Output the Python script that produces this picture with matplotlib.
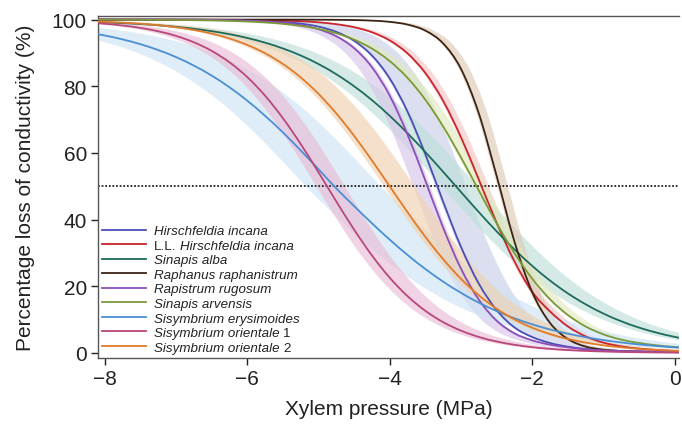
import matplotlib
matplotlib.use("Agg")
import matplotlib.pyplot as plt
from matplotlib.path import Path
from matplotlib.patches import PathPatch
from matplotlib.lines import Line2D
import numpy as np

plt.rcParams['font.family'] = ['Liberation Sans', 'DejaVu Sans']

# ---- data ----
pressure = [-9, -8.75, -8.5, -8.25, -8, -7.75, -7.5, -7.25, -7, -6.75, -6.5, -6.25,
            -6, -5.75, -5.5, -5.25, -5, -4.75, -4.5, -4.25, -4, -3.75, -3.5, -3.25,
            -3, -2.75, -2.5, -2.25, -2, -1.75, -1.5, -1.25, -1, -0.75, -0.5, -0.25,
            0, 0.25, 0.5, 0.75, 1]

hirschfeldia = [100, 100, 100, 100, 100, 100, 99.99, 99.99, 99.98, 99.96, 99.93, 99.88,
                99.78, 99.62, 99.32, 98.81, 97.90, 96.33, 93.64, 89.25, 82.36, 72.43, 59.65, 45.41,
                31.89, 20.85, 12.91, 7.70, 4.8, 3.0, 1.9, 1.2, 0.8, 0.6, 0.45, 0.35,
                0.3, 0.25, 0.2, 0.15, 0.12]
ll_hirschfeldia = [100, 100, 100, 100, 100, 100, 100, 99.99, 99.99, 99.98, 99.97, 99.94,
                   99.90, 99.83, 99.72, 99.52, 99.19, 98.63, 97.72, 96.21, 93.76, 89.88, 84.01, 75.66,
                   64.77, 52.10, 39.15, 27.57, 18.38, 12.5, 8.0, 5.0, 3.1, 2.0, 1.3, 0.9,
                   0.6, 0.45, 0.35, 0.25, 0.2]
sinapis_alba = [99.68, 99.60, 99.49, 99.35, 99.17, 98.94, 98.66, 98.30, 97.84, 97.26, 96.53, 95.63,
                94.49, 93.09, 91.35, 89.24, 86.67, 83.61, 80.01, 75.86, 71.14, 65.92, 60.28, 54.36,
                48.31, 42.30, 36.52, 31.10, 26.15, 21.75, 17.90, 14.62, 11.84, 9.53, 7.63, 6.09,
                4.84, 3.84, 3.04, 2.40, 1.89]
raphanus = [100, 100, 100, 100, 100, 100, 100, 100, 100, 100, 100, 100,
            100, 100, 100, 99.99, 99.97, 99.94, 99.87, 99.70, 99.33, 98.51, 96.71, 92.88,
            85.26, 71.96, 53.25, 33.57, 18.32, 9.05, 4.23, 1.92, 1.0, 0.6, 0.4, 0.3,
            0.25, 0.2, 0.15, 0.1, 0.1]
rapistrum = [100, 100, 100, 100, 100, 99.99, 99.99, 99.98, 99.97, 99.95, 99.91, 99.83,
             99.70, 99.47, 99.07, 98.36, 97.12, 95.00, 91.44, 85.74, 77.19, 65.56, 51.72, 37.61,
             25.33, 16.03, 9.70, 5.9, 3.8, 2.5, 1.7, 1.1, 0.8, 0.6, 0.5, 0.4,
             0.35, 0.3, 0.25, 0.2, 0.15]
sinapis_arvensis = [100, 99.99, 99.99, 99.98, 99.98, 99.96, 99.95, 99.92, 99.88, 99.83, 99.74, 99.61,
                    99.42, 99.14, 98.73, 98.11, 97.21, 95.90, 94.00, 91.31, 87.57, 82.52, 75.99, 67.96,
                    58.71, 48.80, 38.98, 29.99, 22.31, 16.14, 11.43, 7.96, 5.6, 4.0, 3.0, 2.3,
                    1.8, 1.4, 1.1, 0.85, 0.65]
erysimoides = [98.06, 97.57, 96.95, 96.18, 95.23, 94.06, 92.62, 90.86, 88.75, 86.20, 83.20, 79.69,
               75.67, 71.14, 66.15, 60.75, 55.11, 49.36, 44.07, 38.92, 34.00, 29.41, 25.20, 21.41,
               18.05, 15.11, 12.59, 10.43, 8.60, 7.07, 5.80, 4.74, 3.87, 3.15, 2.56, 2.08,
               1.69, 1.37, 1.12, 0.91, 0.74]
orientale1 = [99.69, 99.56, 99.37, 99.11, 98.75, 98.23, 97.51, 96.50, 95.11, 93.20, 90.62, 87.19,
              82.75, 77.17, 70.43, 62.67, 54.19, 45.46, 37.01, 29.27, 22.58, 17.05, 12.65, 9.26,
              6.71, 4.82, 3.45, 2.46, 1.74, 1.23, 0.87, 0.62, 0.44, 0.31, 0.22, 0.15,
              0.11, 0.08, 0.06, 0.04, 0.03]
orientale2 = [99.81, 99.74, 99.64, 99.51, 99.33, 99.09, 98.76, 98.31, 97.70, 96.89, 95.79, 94.33,
              92.41, 89.91, 86.70, 82.67, 77.73, 71.86, 65.14, 57.75, 50.00, 42.25, 34.86, 28.14,
              22.27, 17.33, 13.30, 10.09, 7.59, 5.67, 4.21, 3.11, 2.30, 1.69, 1.24, 0.91,
              0.67, 0.49, 0.36, 0.26, 0.19]

# legend labels: (upright prefix, italic species name, upright suffix)
label_prefix = ['', 'L.L.', '', '', '', '', '', '', '']
label_species = ['Hirschfeldia incana', 'Hirschfeldia incana', 'Sinapis alba',
                 'Raphanus raphanistrum', 'Rapistrum rugosum', 'Sinapis arvensis',
                 'Sisymbrium erysimoides', 'Sisymbrium orientale', 'Sisymbrium orientale']
label_suffix = ['', '', '', '', '', '', '', '1', '2']

series = [hirschfeldia, ll_hirschfeldia, sinapis_alba, raphanus, rapistrum,
          sinapis_arvensis, erysimoides, orientale1, orientale2]
# confidence band as pressure offsets (MPa) below / above the fitted curve
band_low = [-0.03, -0.03, -0.20, -0.03, -0.20, -0.03, -0.40, -0.15, -0.08]
band_high = [0.40, 0.10, 0.30, 0.12, 0.04, 0.14, 0.65, 0.25, 0.35]
threshold = 50

line_colors = ['#4a4db3', '#c9252c', '#1e6b5c', '#3b2316', '#8b4fba',
               '#7a9a3a', '#4a8fd6', '#b8477a', '#e07b2c']
band_colors = ['#c9cfe9', '#f4c6c6', '#bfe0da', '#dccbb6', '#d8c6ea',
               '#e2eac0', '#cfe4f5', '#e8bcd6', '#f0d2b0']


def smooth_segments(xs, ys):
    """Bezier (Catmull-Rom) rendering of a polyline: control points and codes."""
    pts = np.column_stack([xs, ys])
    n = len(pts)
    verts, codes = [], []
    for i in range(n - 1):
        p0 = pts[max(i - 1, 0)]
        p1 = pts[i]
        p2 = pts[i + 1]
        p3 = pts[min(i + 2, n - 1)]
        c1 = p1 + (p2 - p0) / 6.0
        c2 = p2 - (p3 - p1) / 6.0
        verts += [c1, c2, p2]
        codes += [Path.CURVE4] * 3
    return pts[0], verts, codes


fig = plt.figure(figsize=(6.82, 4.27), dpi=100)
ax = fig.add_axes([0.1437, 0.1593, 0.8519, 0.8002])

x = np.array(pressure, dtype=float)
for vals, lo, hi, bc in zip(series, band_low, band_high, band_colors):
    y = np.array(vals, dtype=float)
    s0, v0, c0 = smooth_segments(x + lo, y)
    s1, v1, c1 = smooth_segments((x + hi)[::-1], y[::-1])
    verts = [s0] + v0 + [s1] + v1 + [s0]
    codes = [Path.MOVETO] + c0 + [Path.LINETO] + c1 + [Path.CLOSEPOLY]
    ax.add_patch(PathPatch(Path(verts, codes), facecolor=bc, alpha=0.65,
                           lw=0, zorder=1))

ax.axhline(threshold, color='#222222', lw=1.3, ls=(0, (1, 1)), zorder=2)

handles = []
for vals, pre, sp, lc in zip(series, label_prefix, label_species, line_colors):
    s, v, c = smooth_segments(x, np.array(vals, dtype=float))
    ax.add_patch(PathPatch(Path([s] + v, [Path.MOVETO] + c), facecolor='none',
                           edgecolor=lc, lw=1.3, zorder=3))
    handles.append(Line2D([], [], color=lc, lw=1.3, label=pre if pre else sp))

ax.set_xlim(-8.097, 0.063)
ax.set_ylim(-1.5, 101)
ax.set_xticks([-8, -6, -4, -2, 0])
ax.set_yticks([0, 20, 40, 60, 80, 100])
ax.tick_params(direction='out', length=5, width=1, labelsize=15, colors='#222222',
               pad=3)
for s in ['left', 'bottom', 'top']:
    ax.spines[s].set_color('#555555')
    ax.spines[s].set_linewidth(1.0)
ax.spines['right'].set_visible(False)

ax.set_xlabel('Xylem pressure (MPa)', fontsize=15, color='#222222', labelpad=8)
ax.set_ylabel('Percentage loss of conductivity (%)', fontsize=15, color='#222222',
              labelpad=12)

fs = 9.6
leg = ax.legend(handles=handles, loc='lower left', bbox_to_anchor=(0, 0),
                borderaxespad=0, frameon=False, fontsize=fs, labelspacing=0.165,
                handlelength=3.3, handletextpad=0.55, borderpad=0.33)
space_pt = 0.278 * fs
for t, pre, sp, suf in zip(leg.get_texts(), label_prefix, label_species, label_suffix):
    t.set_color('#222222')
    if pre:
        t.set_fontstyle('normal')
        ax.annotate(sp, xy=(1, 0), xycoords=t, xytext=(space_pt, 0),
                    textcoords='offset points', ha='left', va='bottom',
                    fontsize=fs, fontstyle='italic', color='#222222', zorder=6)
    else:
        t.set_fontstyle('italic')
        if suf:
            ax.annotate(suf, xy=(1, 0), xycoords=t, xytext=(space_pt, 0),
                        textcoords='offset points', ha='left', va='bottom',
                        fontsize=fs, fontstyle='normal', color='#222222', zorder=6)

fig.savefig('out.png', dpi=100)
